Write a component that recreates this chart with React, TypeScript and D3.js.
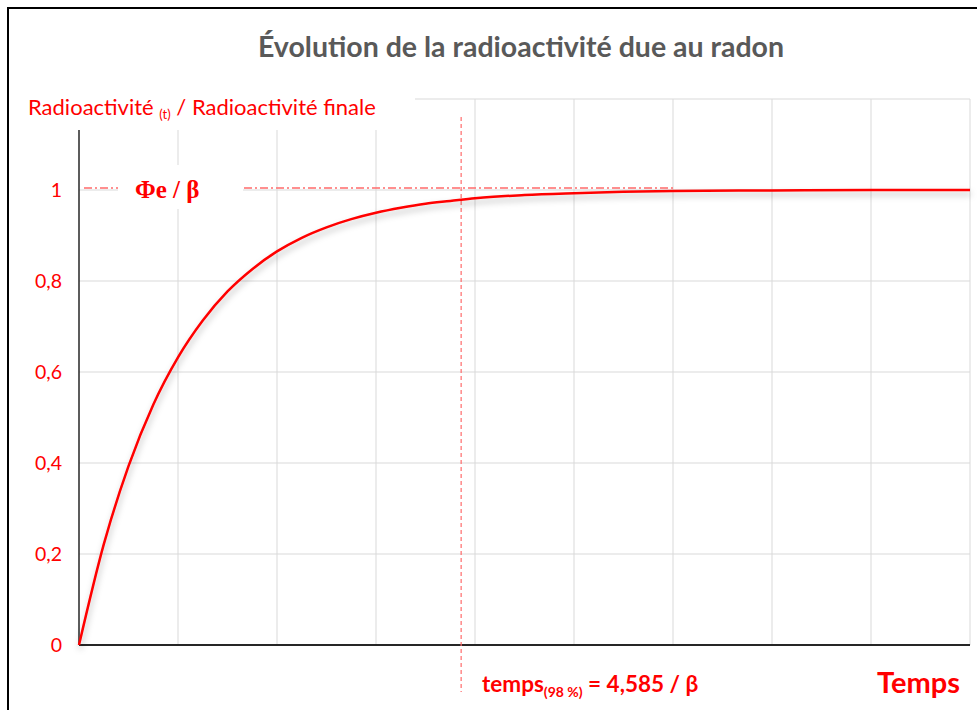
import { useEffect, useRef } from "react";
import * as d3 from "d3";

// values (time in units of 1/β, ratio = A(t) / A final)
const timeValues = [0, 0.25, 0.5, 0.75, 1, 1.25, 1.5, 1.75, 2, 2.25, 2.5, 2.75, 3, 3.25, 3.5, 3.75, 4, 4.5, 5, 5.5, 6, 7, 8, 9];
const ratioValues = [0, 0.221, 0.393, 0.528, 0.632, 0.713, 0.777, 0.826, 0.865, 0.895, 0.918, 0.936, 0.95, 0.961, 0.97, 0.976, 0.982, 0.989, 0.993, 0.996, 0.998, 0.999, 1, 1];

const yTickValues = [0, 0.2, 0.4, 0.6, 0.8, 1];
const yTickLabels = ["0", "0,2", "0,4", "0,6", "0,8", "1"];
const yGridValues = [0.2, 0.4, 0.6, 0.8, 1, 1.2];
const xGridValues = [1, 2, 3, 4, 5, 6, 7, 8, 9];
const t98 = 3.86;
const plateauEnd = 6;

const RED = "#ff0000";
const FONT = "Lato, 'Open Sans', sans-serif";

export default function App() {
    const ref = useRef<SVGSVGElement>(null);

    useEffect(() => {
        const svg = d3.select(ref.current);
        svg.selectAll("*").remove();

        const width = 977;
        const height = 710;
        const margin = { top: 99, right: 7, bottom: 65, left: 79 };

        const x = d3.scaleLinear().domain([0, 9]).range([margin.left, width - margin.right]);
        const y = d3.scaleLinear().domain([0, 1.2]).range([height - margin.bottom, margin.top]);

        const defs = svg.append("defs");
        const filter = defs.append("filter").attr("id", "shadow")
            .attr("x", "-10%").attr("y", "-10%").attr("width", "130%").attr("height", "130%");
        filter.append("feDropShadow")
            .attr("dx", 1).attr("dy", 4).attr("stdDeviation", 3)
            .attr("flood-color", "#000").attr("flood-opacity", 0.28);

        // background + frame
        svg.append("rect").attr("width", width).attr("height", height).attr("fill", "#fff");
        svg.append("rect")
            .attr("x", 8).attr("y", 8).attr("width", width + 20).attr("height", height + 20)
            .attr("fill", "none").attr("stroke", "#000").attr("stroke-width", 2);

        // gridlines
        svg.append("g").selectAll("line").data(xGridValues).join("line")
            .attr("x1", d => x(d)).attr("x2", d => x(d))
            .attr("y1", y(1.2)).attr("y2", y(0))
            .attr("stroke", "#d9d9d9").attr("stroke-width", 1);
        svg.append("g").selectAll("line").data(yGridValues).join("line")
            .attr("x1", x(0)).attr("x2", x(9))
            .attr("y1", d => y(d)).attr("y2", d => y(d))
            .attr("stroke", "#d9d9d9").attr("stroke-width", 1);

        // axes
        svg.append("line")
            .attr("x1", x(0)).attr("x2", x(0)).attr("y1", y(1.2)).attr("y2", y(0))
            .attr("stroke", "#262626").attr("stroke-width", 1.5);
        svg.append("line")
            .attr("x1", x(0)).attr("x2", x(9)).attr("y1", y(0)).attr("y2", y(0))
            .attr("stroke", "#262626").attr("stroke-width", 2);

        // y tick labels
        svg.append("g").selectAll("text").data(yTickValues).join("text")
            .attr("x", 62).attr("y", d => y(d))
            .attr("dy", "0.35em")
            .attr("text-anchor", "end")
            .attr("fill", RED)
            .style("font-family", FONT)
            .style("font-size", "19.5px")
            .text((d, i) => yTickLabels[i]);

        // dash-dot asymptote
        svg.append("line")
            .attr("x1", x(0) + 5).attr("x2", x(plateauEnd))
            .attr("y1", y(1) - 2).attr("y2", y(1) - 2)
            .attr("stroke", "#ff6b6b").attr("stroke-width", 1.5)
            .attr("stroke-dasharray", "8,3,2,3");

        // 98 % vertical marker
        svg.append("line")
            .attr("x1", x(t98)).attr("x2", x(t98))
            .attr("y1", 117).attr("y2", 692)
            .attr("stroke", "#ff6b6b").attr("stroke-width", 1.2)
            .attr("stroke-dasharray", "4,3");

        // curve
        const points = timeValues.map((t, i) => [t, ratioValues[i]] as [number, number]);
        const line = d3.line<[number, number]>()
            .x(d => x(d[0]))
            .y(d => y(d[1]))
            .curve(d3.curveMonotoneX);
        svg.append("path")
            .datum(points)
            .attr("d", line)
            .attr("fill", "none")
            .attr("stroke", RED)
            .attr("stroke-width", 2.5)
            .attr("filter", "url(#shadow)");

        // title
        svg.append("text")
            .attr("x", 521).attr("y", 57)
            .attr("text-anchor", "middle")
            .attr("fill", "#595959")
            .style("font-family", FONT)
            .style("font-weight", "bold")
            .style("font-size", "28.5px")
            .text("Évolution de la radioactivité due au radon");

        // y axis title on white box
        svg.append("rect").attr("x", 20).attr("y", 90).attr("width", 395).attr("height", 40).attr("fill", "#fff");
        const yTitle = svg.append("text")
            .attr("x", 28).attr("y", 115)
            .attr("fill", RED)
            .style("font-family", FONT)
            .style("font-size", "22px");
        yTitle.append("tspan").text("Radioactivité ");
        yTitle.append("tspan").attr("dy", 4).style("font-size", "13px").text("(t)");
        yTitle.append("tspan").attr("dy", -4).text(" / Radioactivité finale");

        // Φe / β label on white box
        svg.append("rect").attr("x", 118).attr("y", 165).attr("width", 125).attr("height", 44).attr("fill", "#fff");
        svg.append("text")
            .attr("x", 135).attr("y", y(1) + 8)
            .attr("fill", RED)
            .style("font-family", "'Liberation Serif', 'DejaVu Serif', serif")
            .style("font-weight", "bold")
            .style("font-size", "25px")
            .text("Φe / β");

        // 98 % time label
        const tLabel = svg.append("text")
            .attr("x", 482).attr("y", 692)
            .attr("fill", RED)
            .style("font-family", FONT)
            .style("font-weight", "bold")
            .style("font-size", "22.5px");
        tLabel.append("tspan").text("temps");
        tLabel.append("tspan").attr("dy", 5).style("font-size", "14px").text("(98 %)");
        tLabel.append("tspan").attr("dy", -5).text(" = 4,585 / β");

        // x axis title
        svg.append("text")
            .attr("x", 960).attr("y", 693)
            .attr("text-anchor", "end")
            .attr("fill", RED)
            .style("font-family", FONT)
            .style("font-weight", "bold")
            .style("font-size", "29px")
            .text("Temps");
    }, []);

    return (
        <div style={{ position: "fixed", left: 0, top: 0, width: 977, height: 710, overflow: "hidden", background: "#fff" }}>
            <svg ref={ref} width={977} height={710} style={{ display: "block" }} />
        </div>
    );
}
